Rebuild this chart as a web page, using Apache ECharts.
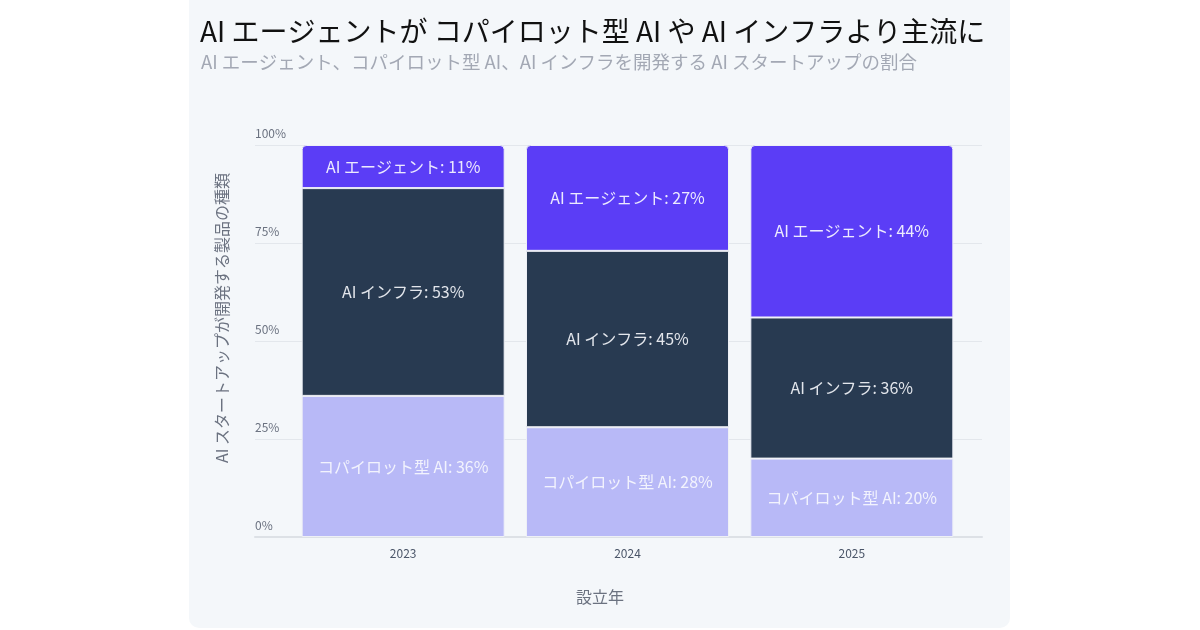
<!DOCTYPE html>
<html><head><meta charset="utf-8">
<script src="https://cdn.jsdelivr.net/npm/echarts@6/dist/echarts.min.js"></script>
<style>
html,body{margin:0;padding:0;background:#ffffff;width:1200px;height:630px;overflow:hidden;}
#panel{position:absolute;left:189px;top:-10px;width:821px;height:638px;border-radius:10px;background:#f4f7fa;}
#chart{position:absolute;left:0;top:0;width:1200px;height:630px;}
</style></head>
<body>
<div id="panel"></div>
<div id="chart"></div>
<script>
const categories = ['2023', '2024', '2025'];
const copilot = [36, 28, 20];
const infra = [53, 45, 36];
const agent = [11, 27, 44];
const yTicks = [0, 25, 50, 75, 100];
const seriesNames = ['コパイロット型 AI', 'AI インフラ', 'AI エージェント'];

const FONT = '"Noto Sans CJK JP", "Noto Sans", sans-serif';
const chart = echarts.init(document.getElementById('chart'), null, {renderer: 'canvas'});
const labelFmt = p => p.seriesName + ': ' + p.value + '%';
function barSeries(name, data, color, labelColor, radius) {
  return {
    name: name, type: 'bar', stack: 'total', xAxisIndex: 1, yAxisIndex: 1,
    data: data, barWidth: 203,
    itemStyle: {color: color, borderColor: '#eef0f6', borderWidth: 1, borderRadius: radius},
    label: {show: true, position: 'inside', formatter: labelFmt, color: labelColor,
      fontSize: 16, fontFamily: FONT},
    emphasis: {disabled: true}
  };
}
chart.setOption({
  animation: false,
  textStyle: {fontFamily: FONT},
  title: [
    {text: 'AI エージェントが コパイロット型 AI や AI インフラより主流に', left: 195, top: 12,
      textStyle: {fontSize: 28, fontWeight: 'normal', color: '#111111', fontFamily: FONT}},
    {text: 'AI エージェント、コパイロット型 AI、AI インフラを開発する AI スタートアップの割合', left: 196, top: 48,
      textStyle: {fontSize: 18.5, fontWeight: 'normal', color: '#a3a8b4', fontFamily: FONT}}
  ],
  grid: [
    {left: 255, right: 218, top: 145, bottom: 93},
    {left: 291, right: 236, top: 145, bottom: 93}
  ],
  xAxis: [
    {type: 'category', gridIndex: 0, data: categories,
      axisLine: {show: true, lineStyle: {color: '#dde1e6', width: 2}},
      axisTick: {show: false}, axisLabel: {show: false}, splitLine: {show: false}},
    {type: 'category', gridIndex: 1, data: categories,
      axisLine: {show: false}, axisTick: {show: false},
      axisLabel: {color: '#4a5568', fontSize: 12, margin: 10, fontFamily: FONT}}
  ],
  yAxis: [
    {type: 'value', gridIndex: 0, min: 0, max: 100, interval: 25,
      axisLine: {show: false}, axisTick: {show: false},
      splitLine: {show: true, lineStyle: {color: '#e3e7ec', width: 1}},
      axisLabel: {inside: true, formatter: '{value}%', color: '#6b7280', fontSize: 12,
        verticalAlign: 'bottom', margin: 0, padding: [0, 0, 6, 0], fontFamily: FONT}},
    {type: 'value', gridIndex: 1, min: 0, max: 100, show: false}
  ],
  graphic: [
    {type: 'text', x: 222, y: 318, rotation: Math.PI / 2,
      style: {text: 'AI スタートアップが開発する製品の種類', fill: '#6b7280', fontSize: 16,
        fontFamily: FONT, align: 'center', verticalAlign: 'middle'}},
    {type: 'text', x: 600, y: 597,
      style: {text: '設立年', fill: '#6b7280', fontSize: 16,
        fontFamily: FONT, align: 'center', verticalAlign: 'middle'}}
  ],
  series: [
    {type: 'bar', xAxisIndex: 0, yAxisIndex: 0, data: [], silent: true},
    barSeries(seriesNames[0], copilot, '#b8b9f7', '#f2f3fd', 0),
    barSeries(seriesNames[1], infra, '#283a51', '#e3e6ec', 0),
    barSeries(seriesNames[2], agent, '#5b3df6', '#eceafe', [4, 4, 0, 0])
  ]
});
</script>
</body></html>
